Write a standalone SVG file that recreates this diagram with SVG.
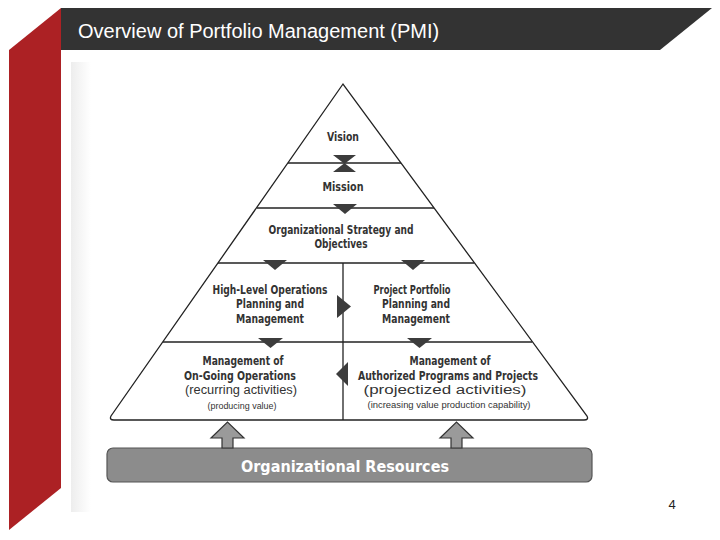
<svg xmlns="http://www.w3.org/2000/svg" width="720" height="540" viewBox="0 0 720 540">
<defs>
<style>
.t{font-family:"DejaVu Sans Condensed","DejaVu Sans","Liberation Sans",sans-serif;font-stretch:condensed;font-weight:bold;font-size:12px;fill:#333;text-anchor:middle}
.r{font-family:"Liberation Sans","DejaVu Sans",sans-serif;font-size:12.5px;fill:#333;text-anchor:middle}
.s{font-family:"Liberation Sans","DejaVu Sans",sans-serif;font-size:9px;fill:#333;text-anchor:middle}
.ln{stroke:#222;stroke-width:1.3;fill:none}
.ah{fill:#3c3c3c}
.ua{fill:#9a9a9a;stroke:#333;stroke-width:1.2}
</style>
<linearGradient id="edge" x1="0" y1="0" x2="1" y2="0">
<stop offset="0" stop-color="#ededed"/>
<stop offset="1" stop-color="#ffffff"/>
</linearGradient>
</defs>
<rect width="720" height="540" fill="#ffffff"/>
<rect x="71" y="62" width="20" height="450" fill="url(#edge)"/>
<g id="header">
<polygon points="9,50 61,8 61,488 9,530" fill="#ac2124"/>
<polygon points="61,8 712,8 660,50 61,50" fill="#333333"/>
<text x="78" y="38" font-family="Liberation Sans, Arial, sans-serif" font-size="20" fill="#ffffff">Overview of Portfolio Management (PMI)</text>
</g>
<g id="pyramid">
<path class="ln" d="M343,84 L111,416 Q109,420 114,420 L584,420 Q589,420 587,416 Z"/>
<line class="ln" x1="288" y1="163" x2="401" y2="163"/>
<line class="ln" x1="257" y1="208" x2="434" y2="208"/>
<line class="ln" x1="218" y1="263" x2="474" y2="263"/>
<line class="ln" x1="163" y1="342" x2="532" y2="342"/>
<line class="ln" x1="343" y1="263" x2="343" y2="420"/>
</g>
<g id="vision"><text class="t" x="343" y="141" textLength="32" lengthAdjust="spacingAndGlyphs">Vision</text></g>
<g id="mission"><text class="t" x="343" y="191" textLength="41" lengthAdjust="spacingAndGlyphs">Mission</text></g>
<g id="strategy">
<text class="t" x="341" y="234" textLength="145" lengthAdjust="spacingAndGlyphs">Organizational Strategy and</text>
<text class="t" x="341" y="248" textLength="53" lengthAdjust="spacingAndGlyphs">Objectives</text>
</g>
<g id="highlevel">
<text class="t" x="270" y="294" textLength="115" lengthAdjust="spacingAndGlyphs">High-Level Operations</text>
<text class="t" x="270" y="308" textLength="68" lengthAdjust="spacingAndGlyphs">Planning and</text>
<text class="t" x="270" y="323" textLength="68" lengthAdjust="spacingAndGlyphs">Management</text>
</g>
<g id="portfolio">
<text class="t" x="412" y="294" textLength="77" lengthAdjust="spacingAndGlyphs">Project Portfolio</text>
<text class="t" x="416" y="308" textLength="68" lengthAdjust="spacingAndGlyphs">Planning and</text>
<text class="t" x="416" y="323" textLength="68" lengthAdjust="spacingAndGlyphs">Management</text>
</g>
<g id="ongoing">
<text class="t" x="243" y="365" textLength="81" lengthAdjust="spacingAndGlyphs">Management of</text>
<text class="t" x="240" y="380" textLength="112" lengthAdjust="spacingAndGlyphs">On-Going Operations</text>
<text class="r" x="241" y="394" textLength="112" lengthAdjust="spacingAndGlyphs">(recurring activities)</text>
<text class="s" x="242" y="409" textLength="69" lengthAdjust="spacingAndGlyphs">(producing value)</text>
</g>
<g id="authorized">
<text class="t" x="450" y="365" textLength="81" lengthAdjust="spacingAndGlyphs">Management of</text>
<text class="t" x="448" y="380" textLength="180" lengthAdjust="spacingAndGlyphs">Authorized Programs and Projects</text>
<text class="r" x="445" y="394" textLength="163" lengthAdjust="spacingAndGlyphs">(projectized activities)</text>
<text class="s" x="449" y="408" textLength="163" lengthAdjust="spacingAndGlyphs">(increasing value production capability)</text>
</g>
<g id="resources">
<rect x="107" y="448" width="485" height="34" rx="6" fill="#8c8c8c" stroke="#555" stroke-width="1.2"/>
<text x="345" y="472" font-family="DejaVu Sans Condensed, DejaVu Sans, sans-serif" font-stretch="condensed" font-weight="bold" font-size="15" fill="#ffffff" text-anchor="middle" textLength="208" lengthAdjust="spacingAndGlyphs">Organizational Resources</text>
</g>
<g id="connectors">
<polygon class="ah" points="333,155 356,155 345,163.5 356,172 333,172 344,163.5"/>
<polygon class="ah" points="333,204 357,204 345,214"/>
<polygon class="ah" points="263,260 287,260 275,270"/>
<polygon class="ah" points="401,260 425,260 413,270"/>
<polygon class="ah" points="337,295 337,318 351,306.5"/>
<polygon class="ah" points="258,338 283,338 270.5,348"/>
<polygon class="ah" points="407,338 432,338 419.5,348"/>
<polygon class="ah" points="348,362 348,386 336,374"/>
<polygon class="ua" points="222,448 222,438 211,438 227.5,422 244,438 233,438 233,448"/>
<polygon class="ua" points="451,448 451,438 440,438 456.5,422 473,438 462,438 462,448"/>
</g>
<text x="672" y="509" font-family="Liberation Sans, Arial, sans-serif" font-size="13" fill="#222" text-anchor="middle">4</text>
</svg>
